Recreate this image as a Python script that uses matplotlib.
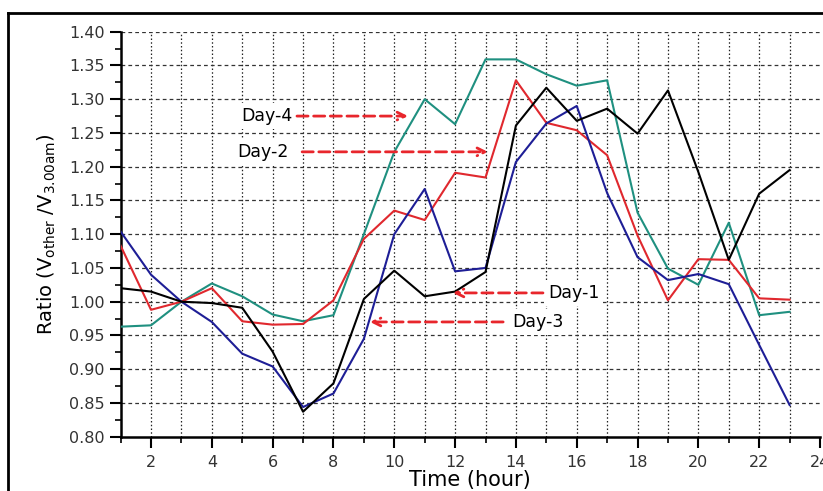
import numpy as np
import matplotlib
matplotlib.use("Agg")
from matplotlib import pyplot as plt
from matplotlib.ticker import MultipleLocator, FormatStrFormatter

hours = list(range(1, 24))
day1 = [1.020, 1.015, 1.000, 0.998, 0.991, 0.926, 0.837, 0.879, 1.004, 1.046, 1.008, 1.015,
        1.044, 1.261, 1.317, 1.268, 1.286, 1.249, 1.313, 1.192, 1.062, 1.160, 1.195]
day2 = [1.083, 0.988, 1.000, 1.020, 0.971, 0.966, 0.967, 1.002, 1.093, 1.135, 1.121, 1.191,
        1.184, 1.328, 1.265, 1.254, 1.217, 1.098, 1.002, 1.063, 1.062, 1.005, 1.003]
day3 = [1.104, 1.040, 1.000, 0.970, 0.923, 0.904, 0.844, 0.864, 0.945, 1.100, 1.167, 1.045,
        1.050, 1.207, 1.264, 1.290, 1.161, 1.066, 1.032, 1.041, 1.026, 0.936, 0.847]
day4 = [0.963, 0.965, 1.000, 1.027, 1.008, 0.981, 0.971, 0.980, 1.100, 1.222, 1.300, 1.263,
        1.359, 1.359, 1.337, 1.320, 1.328, 1.132, 1.049, 1.025, 1.117, 0.980, 0.985]

# label text, text anchor, arrow tail, arrow head (data coords)
labels = ["Day-4", "Day-2", "Day-1", "Day-3"]
label_y = [1.275, 1.222, 1.013, 0.970]
label_x = [6.64, 6.54, 15.05, 13.87]
arrow_tail = [6.80, 6.97, 14.89, 13.58]
arrow_head = [10.45, 13.08, 11.93, 9.20]

plt.rcParams['font.family'] = ['DejaVu Sans']

fig = plt.figure(figsize=(8.23, 4.91), dpi=100)
ax = fig.add_axes([120.6/823, 1-436.7/491, (820-120.6)/823, (436.7-31.7)/491])

# outer frame
fig.add_artist(plt.Line2D([8/823, 8/823], [0, 1-13/491], color='black', lw=2, transform=fig.transFigure))
fig.add_artist(plt.Line2D([8/823, 1], [1-13/491, 1-13/491], color='black', lw=2, transform=fig.transFigure))

# grid
for h in range(2, 24):
    ax.axvline(h, color='#222222', lw=0.9, ls=(0, (1.2, 1.8)), zorder=1)
for v in np.arange(0.85, 1.401, 0.05):
    ax.axhline(v, color='#333333', lw=0.9, ls=(0, (3, 2.5)), zorder=1)

ax.plot(hours, day4, color='#1f9080', lw=1.5, zorder=3)
ax.plot(hours, day2, color='#e0282e', lw=1.5, zorder=3)
ax.plot(hours, day3, color='#1e1e96', lw=1.5, zorder=3)
ax.plot(hours, day1, color='black', lw=1.5, zorder=4)

for i in range(len(labels)):
    ha = 'right' if label_x[i] < arrow_tail[i] else 'left'
    ax.text(label_x[i], label_y[i], labels[i], ha=ha, va='center', fontsize=12.5,
            bbox=dict(facecolor='white', edgecolor='none', pad=3), zorder=5)
    ax.annotate('', xy=(arrow_head[i], label_y[i]), xytext=(arrow_tail[i], label_y[i]),
                arrowprops=dict(arrowstyle='->', color='#e8262c', lw=2, ls=(0, (4, 2)),
                                shrinkA=0, shrinkB=0, mutation_scale=14), zorder=6)

ax.set_xlim(1, 24)
ax.set_ylim(0.80, 1.40)
ax.xaxis.set_major_locator(MultipleLocator(2))
ax.xaxis.set_minor_locator(MultipleLocator(1))
ax.yaxis.set_major_locator(MultipleLocator(0.05))
ax.yaxis.set_minor_locator(MultipleLocator(0.025))
ax.yaxis.set_major_formatter(FormatStrFormatter('%.2f'))
ax.tick_params(which='major', direction='out', length=8, width=1.5, labelsize=11.5, colors='black')
ax.tick_params(which='minor', direction='out', length=4, width=1.2)
ax.tick_params(axis='y', labelcolor='#333333')
ax.tick_params(axis='x', labelcolor='#333333', pad=5)

for s in ['top', 'right']:
    ax.spines[s].set_visible(False)
for s in ['left', 'bottom']:
    ax.spines[s].set_linewidth(1.8)

ax.set_xlabel('Time (hour)', fontsize=15, labelpad=0)
ax.set_ylabel(r'Ratio (V$_{\mathrm{other}}$ /V$_{\mathrm{3.00am}}$)', fontsize=14, labelpad=8)

fig.savefig('out.png', dpi=100)
